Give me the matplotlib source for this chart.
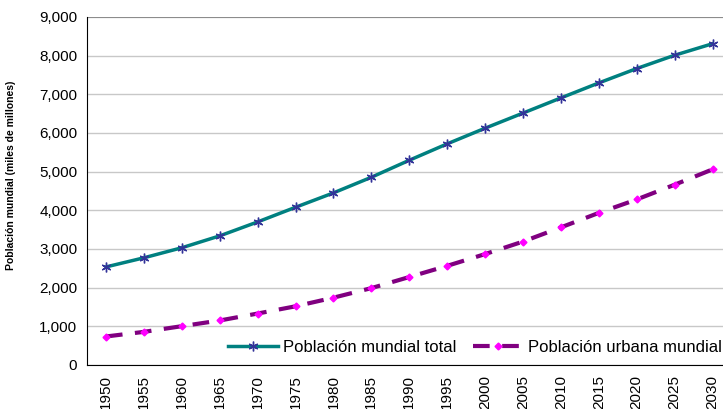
import matplotlib
matplotlib.use("Agg")
import matplotlib.pyplot as plt

plt.rcParams['font.family'] = ['Liberation Sans', 'DejaVu Sans']

years = [1950, 1955, 1960, 1965, 1970, 1975, 1980, 1985, 1990, 1995,
         2000, 2005, 2010, 2015, 2020, 2025, 2030]
total = [2536, 2772, 3032, 3339, 3700, 4079, 4451, 4855, 5295, 5719,
         6124, 6515, 6907, 7295, 7667, 8011, 8309]
urbana = [737, 857, 1004, 1151, 1331, 1518, 1741, 1988, 2275, 2564,
          2868, 3192, 3559, 3934, 4281, 4663, 5059]
yticks = [0, 1000, 2000, 3000, 4000, 5000, 6000, 7000, 8000, 9000]

fig = plt.figure(figsize=(7.23, 4.09), dpi=100)
ax = fig.add_axes([87/723, 44/409, 644.5/723, 348/409])

x = list(range(len(years)))
ax.plot(x, total, color='#008080', lw=2.5, marker=(6, 2, 0), ms=7,
        mec='#333399', mfc='#333399', mew=1.0,
        label='Población mundial total', zorder=3)
ax.plot(x, urbana, color='#800080', lw=3, ls=(0, (4, 3)), marker='D', ms=3.5,
        mec='#FF00FF', mfc='#FF00FF',
        label='Población urbana mundial', zorder=3)

ax.set_xlim(-0.5, len(years) - 0.5)
ax.set_ylim(0, 9000)
ax.set_xticks(x)
ax.set_xticklabels([str(y) for y in years], rotation=90, fontsize=11)
ax.set_yticks(yticks)
ax.set_yticklabels([f'{v:,}' for v in yticks], fontsize=11)
ax.tick_params(axis='both', length=0, pad=7)
ax.yaxis.grid(True, color='#c8c8c8', lw=1)
ax.set_axisbelow(True)
for s in ['top', 'right']:
    ax.spines[s].set_visible(False)
ax.spines['left'].set_color('black')
ax.spines['bottom'].set_color('black')
ax.axhline(9000, color='#808080', lw=1.2, zorder=1)

ax.set_ylabel('Población mundial (miles de millones)', fontsize=7.5,
              fontweight='bold')
ax.yaxis.set_label_coords(-0.110, 0.545)

leg = ax.legend(loc='lower right', bbox_to_anchor=(645 / 644.5, 0.0),
                ncol=2, frameon=False, fontsize=12, handlelength=3,
                columnspacing=1.0, handletextpad=0.3, borderaxespad=0.2)

fig.savefig('out.png', dpi=100)
